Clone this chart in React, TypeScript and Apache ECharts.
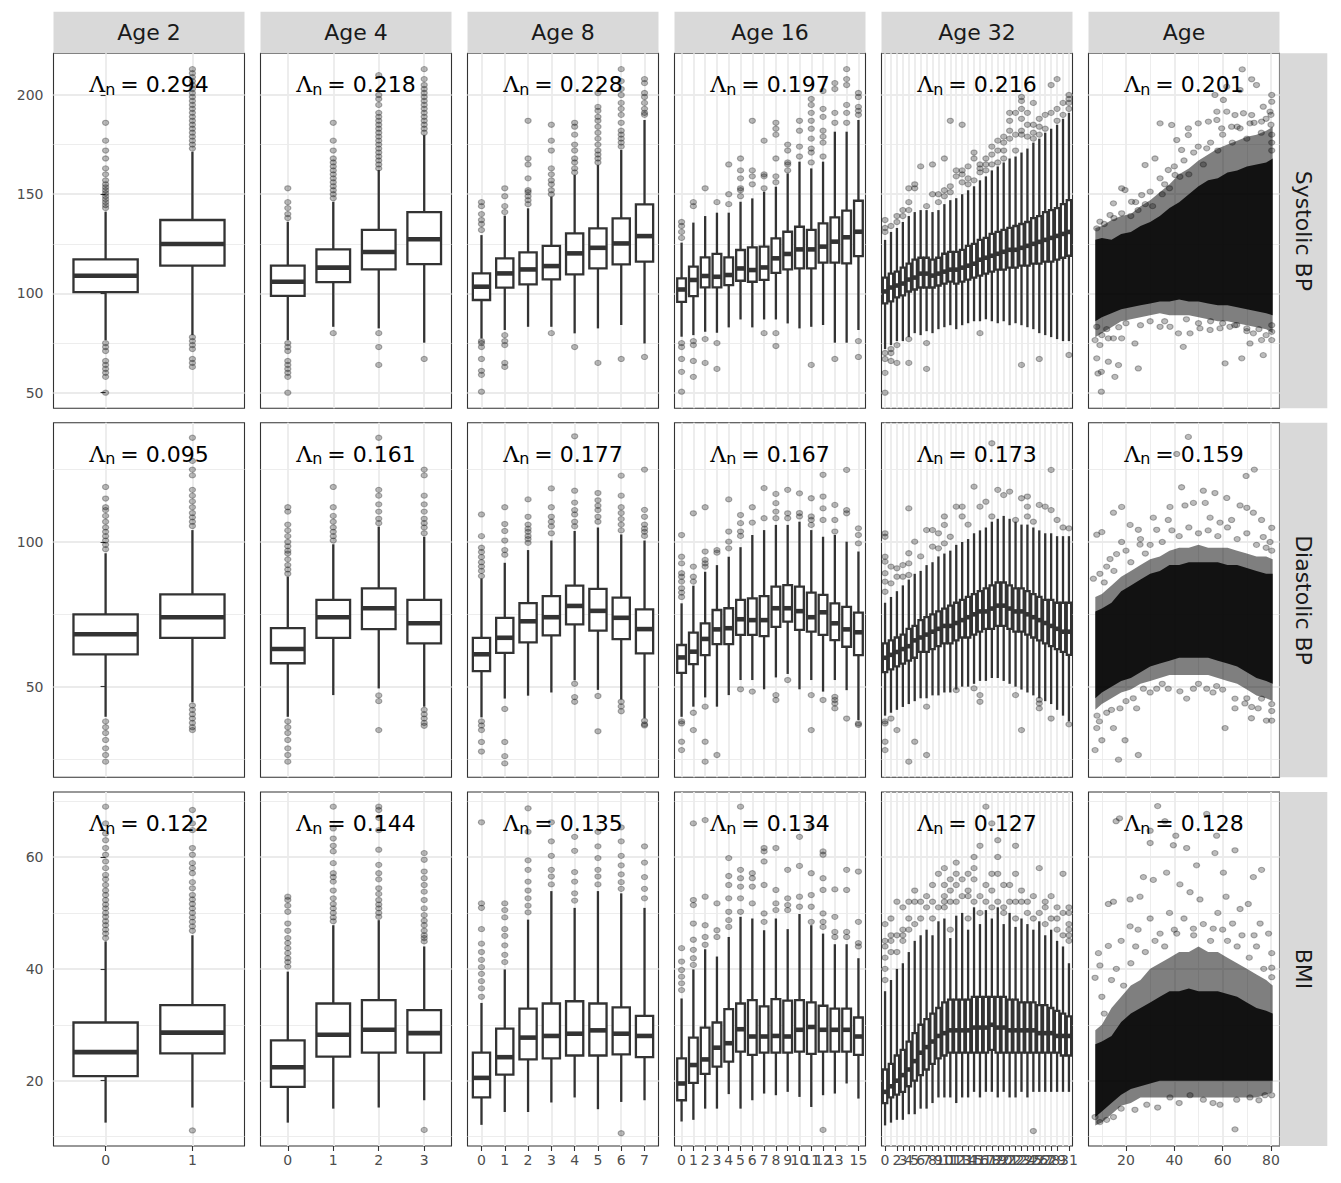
import React, { useEffect, useRef } from "react";
import * as echarts from "echarts";

const FONT = "DejaVu Sans";

const ROW_NAMES = ["Systolic BP", "Diastolic BP", "BMI"];
const COL_NAMES = ["Age 2", "Age 4", "Age 8", "Age 16", "Age 32", "Age"];
const LAMBDA = [
  ["0.294", "0.218", "0.228", "0.197", "0.216", "0.201"],
  ["0.095", "0.161", "0.177", "0.167", "0.173", "0.159"],
  ["0.122", "0.144", "0.135", "0.134", "0.127", "0.128"],
];
const GROUP_COUNTS = [2, 4, 8, 16, 32];
const Y_MAJOR = [[50, 100, 150, 200], [50, 100], [20, 40, 60]];
const Y_MINOR = [[75, 125, 175], [25, 75, 125], [10, 30, 50, 70]];
const Y_RANGE = [[42.14, 221.0], [18.7, 141.2], [8.32, 71.62]];
const AGE_MAJOR = [20, 40, 60, 80];
const AGE_MINOR = [10, 30, 50, 70];
const AGE_RANGE = [4.48, 83.52];

// ---------- Systolic BP: boxes [lower whisker, Q1, median, Q3, upper whisker]
const SBP_A2 = [[76.5, 100.7, 108.9, 117.2, 141.2], [79, 114, 124.9, 137, 171.4]];
const SBP_A2_OUT = [
  [143, 144.5, 146, 147.5, 149, 150.5, 152, 153.5, 155, 157, 160, 163, 168, 172, 177, 186, 75, 73, 71, 66, 64, 62, 60, 58, 50],
  [173, 175, 177, 179, 181, 183, 185, 187, 189, 191, 193, 195, 197, 199, 201, 203, 205, 207, 209, 211, 213, 78, 76, 74, 72, 67, 65, 63],
];
const SBP_A4 = [[76.5, 98.8, 105.9, 114, 136.1], [83.2, 105.7, 113, 122.2, 146.2], [82.4, 112.1, 120.9, 132, 162.2], [75.2, 114.8, 127.3, 141, 179.8]];
const SBP_A4_OUT = [
  [138, 140, 143, 146, 153, 75, 73, 71, 66, 64, 62, 60, 58, 50],
  [148, 150, 152, 154, 156, 158, 160, 162, 164, 166, 168, 172, 177, 186, 80],
  [163, 165, 167, 169, 171, 173, 175, 177, 179, 181, 183, 185, 187, 189, 191, 195, 198, 200, 210, 80, 73, 64],
  [181, 183, 185, 187, 189, 191, 193, 195, 197, 199, 201, 203, 205, 208, 213, 67],
];
const SBP_A8 = [
  [77.4, 96.7, 103.4, 110.1, 129.4], [81.6, 102.9, 110.1, 117.7, 139.2], [83.2, 104.6, 112.1, 120.7, 142.9], [83.2, 107.1, 113.8, 124, 148.8],
  [79.9, 109.6, 120.2, 130.3, 159.7], [82.4, 112.6, 123, 132.8, 164.7], [84.1, 114.7, 125.2, 137.8, 172.3], [74.8, 116, 128.9, 144.9, 187.4],
];
const SBP_A8_OUT = [
  [132, 135, 137, 140, 144, 146, 76, 75, 73, 67, 61, 59, 50.5],
  [141, 144, 149, 153, 79, 76, 74, 65, 63],
  [145, 147, 149, 151, 152, 158, 165, 168, 187],
  [150, 152, 155, 157, 160, 163, 172, 177, 185, 80],
  [161, 163, 166, 168, 172, 175, 180, 184, 186, 73],
  [166, 168, 170, 172, 175, 178, 181, 184, 187, 189, 192, 194, 201, 65],
  [174, 176, 178, 180, 182, 186, 190, 193, 196, 200, 203, 207, 213, 67],
  [190, 191, 193, 196, 199, 201, 206, 208, 68],
];
const SBP_A16 = [
  [78.2, 95.8, 102.0, 107.6, 125.6], [79, 98.7, 106.8, 113.5, 135.7], [80.7, 103.1, 108.8, 118.2, 139], [80.2, 103.1, 108.4, 119.9, 140.7],
  [82.9, 104.2, 109.3, 118.2, 140.7], [86.9, 106.4, 112.6, 121.9, 146.2], [82.9, 105.9, 111.8, 123.2, 147.9], [86.9, 106.8, 113.1, 123.6, 151.3],
  [86.9, 110.4, 117.7, 127.8, 153.8], [84.9, 112.1, 119.9, 131.1, 160.5], [82.4, 112.6, 122.2, 133.6, 166.4], [83.2, 112.6, 122.2, 132, 163],
  [84.1, 115.5, 123.6, 135.3, 166.4], [75.2, 115.5, 126.1, 138.3, 181.5], [75.2, 115.2, 128.3, 141.7, 181.5], [81.6, 118.8, 131.1, 146.7, 187.4],
];
const SBP_A16_OUT = [
  [128, 131, 134, 136, 75, 73, 67, 60.5, 50.5], [144, 146, 76, 74, 66, 58], [153, 77, 65], [146, 75, 62],
  [145, 150, 165], [149, 152, 153, 158, 162, 168], [155, 159, 162, 187], [153, 159, 160, 177, 80],
  [156, 159, 168, 180, 183, 186, 80, 73.5], [162, 165, 166, 172, 175], [169, 174, 182, 187], [166, 171, 173, 178, 183, 187, 191, 195, 198, 64],
  [169, 176, 179, 182, 189, 193, 202], [186, 191, 203, 206, 67], [186, 191, 195, 205, 208, 213], [190, 192, 194, 199, 201, 76, 68],
];
const SBP_A32 = [
  [72, 95, 101, 108, 127], [74, 96, 103, 110, 131], [76, 98, 104, 111, 133], [76, 99, 105, 113, 136], [78, 101, 107, 115, 139], [80, 102, 108, 117, 141],
  [79, 103, 110, 118, 142], [81, 103, 110, 118, 142], [80, 103, 109, 117, 141], [82, 104, 110, 118, 142], [83, 105, 111, 120, 145], [84, 106, 112, 121, 147],
  [82, 105, 112, 121, 148], [84, 106, 113, 122, 150], [85, 107, 114, 124, 152], [86, 108, 115, 125, 154], [86, 109, 117, 127, 157], [87, 110, 118, 128, 159],
  [86, 111, 119, 130, 162], [85, 112, 120, 131, 164], [86, 112, 121, 132, 166], [84, 113, 122, 133, 168], [85, 113, 122, 134, 169], [84, 114, 123, 135, 171],
  [83, 114, 124, 136, 173], [82, 115, 125, 138, 176], [80, 115, 126, 139, 178], [79, 116, 127, 141, 181], [78, 116, 128, 142, 183], [77, 117, 129, 143, 185],
  [76, 118, 130, 145, 188], [76, 119, 131, 147, 191],
];
const SBP_A32_OUT = [
  [131, 133, 137, 70, 67, 60, 50], [134, 72, 70, 66], [136, 139, 74, 65], [139, 142], [142, 146, 153, 77, 65], [153, 155],
  [164], [144, 75, 62], [150, 165], [146, 150], [149, 152, 168], [151, 154, 187],
  [159, 162], [156, 160, 162, 185], [155, 158, 164], [157, 168, 171], [161, 163, 165, 80], [162, 165, 168],
  [165, 170, 174], [166, 172, 177], [168, 172, 176, 179], [178, 182, 187, 191], [172, 180, 191], [180, 182, 188, 193, 197, 199, 64],
  [179, 185, 191], [178, 181, 185, 196], [180, 184, 188, 67], [183, 190], [191, 205], [187, 193, 208],
  [190, 196], [193, 196, 198, 200, 69],
];

// ---------- Diastolic BP
const DBP_A2 = [[39.6, 61.2, 68.1, 75, 96.1], [44.6, 66.9, 74, 81.9, 104.1]];
const DBP_A2_OUT = [
  [97.5, 99, 100.5, 102, 103.5, 105, 107, 109, 111, 112, 115, 119, 38, 36, 34, 31.6, 28.7, 26.4, 24.1],
  [105.5, 107, 108.5, 110, 112, 114, 116, 118, 123, 125, 128, 136, 43.5, 42, 40.5, 39, 37.5, 36, 35],
];
const DBP_A4 = [[39.6, 58.1, 63, 70.2, 88], [47.1, 66.9, 74, 80, 99.2], [49.4, 69.9, 77.1, 84, 105.3], [43.1, 65, 71.9, 80, 101.8]];
const DBP_A4_OUT = [
  [89, 90.5, 92, 94, 96, 97, 98.5, 100, 102, 104, 106, 110.5, 112, 38, 36, 34, 31.6, 28.7, 26.4, 24.1],
  [100.5, 102, 103.5, 105, 107, 109, 112, 119],
  [106.5, 108, 110.5, 113, 116, 118, 136, 47, 45, 35],
  [103, 105, 106.5, 108, 110.5, 113, 116, 123, 125, 42, 40.5, 39, 37.5, 36.5],
];
const DBP_A8 = [
  [39.4, 55.4, 61.2, 66.9, 87.4], [45.9, 61.7, 66.9, 73.8, 92.8], [46.9, 65.3, 72.6, 78.9, 97.2], [48, 67.7, 74, 81.3, 100.5],
  [52.2, 71.5, 77.9, 84.9, 103.8], [48.9, 69.4, 76.2, 83.8, 105], [45.6, 66.4, 73.8, 80.8, 102.6], [39.1, 61.5, 69.9, 76.7, 100.5],
];
const DBP_A8_OUT = [
  [88.2, 90, 91.5, 93, 94.8, 96.5, 98, 102, 109.5, 38, 36.6, 35, 30.9, 27.6],
  [95.6, 97.2, 100.5, 103.8, 106.2, 112, 42.3, 30.9, 26, 23.5],
  [99.7, 101, 102.1, 103.5, 104.6, 106, 108.7, 114.7],
  [103, 105.4, 107, 108.7, 112, 118.5],
  [105.4, 107, 109.5, 111, 113.6, 117.7, 136.5, 51, 46.4, 44.8],
  [107, 108.7, 111, 112.5, 114.4, 116.9, 46.8, 34.6],
  [104, 106, 107.9, 110, 112, 116, 122.9, 44.8, 43.2, 41.5],
  [102.1, 103.5, 104.6, 106, 108.7, 111.1, 125, 38.2, 37, 36.6],
];
const DBP_A16 = [
  [39.6, 54.8, 60.1, 64.4, 78.8], [43.1, 57.8, 62.1, 68.7, 84.9], [46.3, 60.9, 66.5, 71.9, 89.7], [43.1, 64.7, 69.8, 76.5, 92],
  [47.1, 64.7, 70.2, 77.1, 94.9], [52.3, 67.9, 73.3, 80, 98.2], [52.3, 67.9, 73, 80.5, 102.4], [49.1, 67.5, 73, 81.3, 104.1],
  [53.2, 70.7, 77.1, 84.6, 105.9], [54.4, 72.5, 77.1, 85.1, 105.9], [49.1, 69.6, 76.1, 84.6, 107], [52.3, 69, 74, 82.5, 104.1],
  [48.3, 67.9, 75.7, 81.7, 101.8], [52.3, 66.1, 71.9, 78.8, 102.4], [48.8, 63.8, 69.8, 77.6, 100.1], [38.5, 60.9, 68.8, 75.6, 96.7],
];
const DBP_A16_OUT = [
  [81, 82.5, 84, 86.3, 88, 89.2, 92.6, 94.9, 102.4, 38, 37.3, 31, 28.1], [86.3, 88, 91.5, 109.9, 41, 35], [91.5, 92.6, 93.8, 96.7, 112, 43.1, 31, 24.1], [96.3, 97.2, 26.4],
  [97.8, 100.1, 103.6, 114.7], [102.1, 103.6, 106.5, 109.3, 49.1], [106.7, 112, 48.3], [108.2, 118.6],
  [108.2, 110.5, 113.4, 116.6, 47.1, 45.4], [108.2, 109.9, 118, 52.3], [108.8, 110, 116.8], [105.9, 107.6, 108.8, 115.1, 47.1, 35],
  [107.6, 111.6, 115.7, 123.2, 45.4], [103.6, 107.6, 112.8, 46.5, 45.4, 44.2, 42.5], [109.9, 111, 124.9, 39], [99.5, 102.4, 104.7, 37.3, 36.8],
];
const DBP_A32 = [
  [40, 55, 60, 65, 79], [41, 56, 61, 66, 81], [42, 57, 62, 67, 83], [43, 58, 63, 68, 85], [44, 59, 64, 70, 87], [45, 60, 66, 71, 89],
  [46, 62, 67, 73, 90], [46, 62, 68, 74, 92], [47, 63, 69, 75, 93], [47, 64, 70, 76, 95], [48, 65, 71, 77, 96], [48, 65, 71, 78, 97],
  [49, 66, 72, 79, 99], [50, 67, 73, 80, 100], [50, 67, 74, 81, 101], [51, 68, 75, 82, 103], [52, 69, 76, 83, 104], [52, 70, 76, 84, 105],
  [53, 70, 77, 85, 107], [53, 71, 78, 86, 108], [52, 71, 78, 86, 109], [51, 70, 77, 85, 108], [50, 69, 76, 84, 107], [49, 69, 76, 84, 106],
  [48, 68, 75, 83, 106], [47, 67, 74, 82, 105], [46, 66, 73, 81, 104], [45, 65, 72, 80, 103], [44, 64, 71, 80, 103], [42, 63, 70, 79, 102],
  [40, 62, 69, 79, 102], [38, 61, 69, 79, 102],
];
const DBP_A32_OUT = [
  [82.8, 86.3, 89.2, 93.2, 94.9, 101.8, 103, 38, 37.3, 31, 28.1], [85.7, 91.5, 39], [88, 90.9, 35], [88, 92], [88.6, 92.6, 96.1, 111.6, 24.1], [100.1, 31],
  [95], [104.1, 43.1, 26.4], [98.4, 104.1], [97.8, 103], [99.5, 105.9, 108.8], [101.8],
  [112.2, 48.8], [108.8, 112.2], [106], [119.1, 49.4], [112.2, 47.1, 44.8], [113.9],
  [108.8, 134.1], [118], [116.2], [117.4], [107.6, 47.1], [115.1, 35],
  [108.8, 112.2, 115.7], [107], [112.8, 45.5, 44.2, 42.5], [112.2], [111, 124.9, 39], [107.6],
  [105], [104.7, 37],
];

// ---------- BMI
const BMI_A2 = [[12.5, 20.8, 25.1, 30.4, 44.9], [15.2, 24.9, 28.6, 33.5, 46]];
const BMI_A2_OUT = [
  [45.5, 46.3, 47, 47.8, 48.5, 49.3, 50, 50.8, 51.5, 52.3, 53.2, 54, 55, 56, 56.8, 58, 59.2, 60.4, 61.6, 63, 64.2, 66, 69],
  [46.8, 47.6, 48.4, 49.2, 50, 50.8, 51.6, 52.4, 53.2, 54.4, 55.5, 57.1, 58, 58.9, 60.4, 61.6, 64.8, 66, 68.4, 11.1],
];
const BMI_A4 = [[12.5, 18.9, 22.4, 27.2, 39.5], [15, 24.3, 28.2, 33.8, 47.8], [15.2, 25, 29.1, 34.4, 48.7], [16.5, 25, 28.5, 32.6, 44]];
const BMI_A4_OUT = [
  [40.4, 41.2, 41.9, 42.8, 43.7, 44.6, 45.5, 46.8, 48.1, 50.2, 51.3, 52.3, 52.9],
  [48.5, 49.2, 50, 50.8, 51.6, 52.6, 54, 55.6, 56.4, 57.1, 58.9, 61, 62, 63.3, 65.1, 69],
  [49.3, 50, 50.8, 51.5, 52.3, 53.4, 54.4, 56, 57.1, 58.6, 61.3, 64.8, 67, 68.4, 69],
  [44.9, 45.5, 46, 46.8, 47.8, 48.6, 49.6, 50.8, 52.3, 53.8, 55, 56.2, 57.4, 59.5, 60.7, 11.2],
];
const BMI_A8 = [
  [12.1, 17, 20.5, 25.0, 33.9], [14.4, 21.1, 24.2, 29.3, 39.9], [14.4, 23.8, 27.7, 32.9, 48.8], [16.1, 24, 28, 33.8, 53.9],
  [17, 24.5, 28.4, 34.2, 50.9], [14.9, 24.5, 29.0, 33.8, 53.9], [16.2, 24.7, 28.4, 33.1, 53.5], [16.5, 24.2, 28, 31.6, 50.9],
];
const BMI_A8_OUT = [
  [35, 36.5, 37.8, 39.1, 40.3, 41.6, 43, 44.5, 47.1, 50.9, 51.7, 66.2],
  [41.2, 42.5, 44.2, 45.9, 47.1, 49.2, 50.5, 51.7],
  [50.1, 51.3, 52.6, 54, 55.6, 57.7, 59.4, 64.5, 68.7],
  [55.1, 56.5, 57.7, 60.2, 62.8, 66.2],
  [52.2, 53.5, 55.6, 57.3, 61.1, 63.6],
  [55.1, 56.5, 57.7, 59.8, 61.9, 64.5],
  [54.3, 55.5, 56.9, 58.5, 60.2, 62.8, 65.3, 10.6],
  [52.6, 54.3, 56.4, 59, 61.9],
];
const BMI_A16 = [
  [12.7, 16.5, 19.5, 24.0, 34.7], [13, 19.6, 22.8, 27.7, 39.9], [15, 21.2, 23.8, 29.5, 43.5], [15, 22.5, 25.9, 30.4, 42.2],
  [17.6, 23.4, 26.7, 32.8, 45.7], [15, 25.2, 29.2, 33.8, 49.3], [16.5, 24.6, 27.9, 34.4, 49], [17.7, 25, 27.9, 33.3, 46.9],
  [17.4, 25, 28, 34.6, 49], [18, 25, 27.9, 34.3, 47.1], [17.1, 25.2, 29.1, 34.4, 49.8], [15.3, 24.8, 29.6, 34, 47.8],
  [17.4, 25.2, 29.1, 33.4, 46.3], [17.7, 25.2, 29.1, 32.9, 44.4], [19.5, 25.2, 29.1, 32.9, 44.4], [16.8, 24.6, 27.9, 31.3, 41.9],
];
const BMI_A16_OUT = [
  [36.2, 37.4, 38.6, 39.8, 41.3, 43.7], [40.7, 41.9, 43.4, 45.2, 48.1, 51.4, 52.3, 66], [44.3, 45.7, 47.8, 52.9, 66.6], [45.7, 46.9, 51.7],
  [47.5, 48.7, 50.2, 52.6, 55, 56.6, 59.8], [50.2, 52.6, 54.7, 56.2, 57.7, 69], [51.7, 54.7, 56.2, 57.1], [48.4, 49.9, 55, 59.2, 61, 61.6],
  [50.5, 51.7, 54.1, 61.6], [50.5, 51.4, 52.6, 57.7], [51.1, 52.9, 58.4, 63.6], [48.4, 51.1, 53.2, 57.1, 65.4],
  [47.5, 48.4, 49.9, 54.1, 56.2, 60.4, 61, 11.2], [45.7, 46.6, 49.3, 54.2], [45.7, 46.6, 54.1, 57.7], [44, 44.6, 48.4, 57.4],
];
const BMI_A32 = [
  [12, 16, 18, 22, 36], [12.5, 17, 19, 23, 38], [13, 17.5, 20, 24.5, 40], [13, 18, 21, 25.5, 41], [14, 19, 22, 27, 43], [14, 20, 23.5, 28.5, 45],
  [15, 21, 25, 30, 46], [15, 22, 26, 31, 47], [16, 23, 27, 32, 46], [17, 24, 28, 33, 48.5], [17, 24.5, 28.5, 34, 49], [17, 25, 29, 34.5, 45.5],
  [16, 25, 29, 34.5, 49.5], [17, 25, 29, 34.5, 50], [17, 25, 29, 34.5, 47], [18, 25, 29.5, 35, 51], [17, 25, 29.5, 35, 48], [18, 25, 29.5, 35, 50.5],
  [18, 25.5, 30, 35, 49], [17, 25, 29.5, 35, 51], [18, 25, 29.5, 35, 48], [17, 25, 29, 34.5, 50], [17, 25, 29, 34.5, 47.5], [18, 25, 29, 34, 49],
  [17, 25, 29, 34, 48], [18, 25, 29, 34, 47], [18, 25, 28.5, 33.5, 48.5], [18, 25, 28.5, 33.5, 46], [18, 25, 28.5, 33, 47], [18, 25, 28, 32.5, 45],
  [18, 24.5, 28, 32, 44], [18, 24.5, 28, 31.5, 41],
];
const BMI_A32_OUT = [
  [38, 40, 42, 44, 45, 48], [43, 45, 46, 49], [43, 46, 52], [45, 46, 47, 51], [47, 49, 52], [48, 52, 54],
  [49, 52], [51, 53], [49, 52, 55], [51, 57], [51, 52, 53, 55, 58], [47, 52, 54, 56],
  [52, 55, 57, 59], [53, 56], [49, 53, 54, 57], [52, 56, 58, 60], [50, 53, 62], [52, 55, 69],
  [51, 54, 57, 66], [52, 57, 60, 63], [50, 51, 55], [52, 55], [49, 52, 57, 62], [52, 54],
  [50, 52], [49, 53, 11], [50, 58], [48, 51, 52], [49, 53], [47, 49, 51],
  [46, 50, 57], [45, 46, 47, 48, 50, 51],
];

// ---------- Continuous age column: dense core bands [age, low, high] and sparse points [age, value]
const SBP_AGE_OUTER = [[7.3, 78, 133], [10, 80, 134], [14, 83, 137], [18, 86, 139], [22, 87, 140], [26, 88, 144], [30, 89, 147], [34, 90, 151], [38, 89, 155], [42, 89, 160], [46, 89, 163], [50, 88, 167], [54, 87, 170], [58, 86, 173], [62, 86, 175], [66, 85, 177], [70, 84, 179], [74, 83, 180], [78, 82, 182], [80.7, 80, 184]];
const SBP_AGE_INNER = [[7.3, 86, 127], [10, 88, 128], [14, 90, 127], [18, 92, 130], [22, 93, 131], [26, 94, 134], [30, 95, 136], [34, 96, 139], [38, 96, 143], [42, 97, 146], [46, 96, 150], [50, 96, 154], [54, 95, 157], [58, 94, 158], [62, 94, 161], [66, 93, 162], [70, 92, 164], [74, 91, 165], [78, 90, 166], [80.7, 89, 168]];
const SBP_AGE_PTS = [
  [68.1, 212.9], [72, 207.9], [74, 205], [80.3, 200], [80.3, 196.6], [61.7, 204.2], [67.2, 202.5], [56.8, 200], [60.3, 197.5], [57.6, 191.6], [61.7, 191.6], [65.1, 189.9],
  [68.6, 190.8], [72, 189.9], [76.8, 194.1], [79.6, 191.6], [34.1, 185.7], [38.9, 184.9], [45.8, 183.2], [49.9, 185.7], [54.1, 186.6], [57.6, 187.4], [59.6, 183.2], [63.7, 184],
  [67.2, 183.2], [71.3, 185.7], [76.1, 186.6], [41, 177.3], [45.8, 179.8], [49.9, 174], [53.4, 173.1], [43, 172.3], [27.9, 164.7], [32, 168], [37.5, 162.2], [34.1, 158],
  [40.3, 159.7], [42.3, 158.8], [18.2, 153], [19.6, 152.1], [26.5, 149.6], [30, 151.3], [14.8, 145.4], [22.3, 146.2], [9.2, 136.2], [13.4, 139.5], [18.2, 140.4], [7.9, 132.8],
  [25, 142], [28, 145], [35, 150], [38, 153], [46, 160], [52, 165], [58, 172], [64, 176], [70, 178], [76, 181], [80, 185], [80, 190], [11, 135], [15, 138], [22, 139],
  [24, 146], [31, 144], [36, 155], [40, 164], [44, 167], [48, 171], [55, 176], [60, 180], [66, 184], [73, 186], [78, 188], [80.3, 180], [80.3, 176], [80.3, 172],
  [7.9, 83.2], [7.2, 76.5], [9.2, 74], [12.7, 77.4], [14.8, 77.4], [18.2, 77.4], [23.7, 74.8], [7.9, 67.3], [12.7, 65.6], [16.9, 63.9], [8.4, 59.7], [9.8, 60.5], [15.4, 58],
  [25.1, 62.2], [9.8, 50.5], [34.1, 83.2], [38.2, 83.2], [41.7, 79.9], [46.5, 79.9], [50.6, 82.4], [54.8, 81.6], [58.9, 82.4], [63, 83.2], [65.8, 84.1], [70, 82.4],
  [72.7, 79.9], [76.1, 76.5], [43.7, 73.1], [61, 64.8], [67.9, 67.3], [71.3, 74.8], [76.8, 68.9], [80.3, 76.5], [80.3, 80.7], [30, 86], [20, 85], [10, 79], [45, 87], [55, 86], [65, 84], [75, 82],
  [26, 84], [36, 86], [50, 85], [60, 85], [70, 81], [78, 79], [80.3, 84], [12, 82], [17, 83],
];
const DBP_AGE_OUTER = [[7.3, 42, 81], [10, 44, 82], [14, 46, 85], [18, 48, 88], [22, 49, 90], [26, 51, 92], [30, 52, 94], [34, 53, 95], [38, 54, 97], [42, 54, 98], [46, 54, 98], [50, 54, 99], [54, 54, 98], [58, 53, 98], [62, 52, 98], [66, 51, 97], [70, 49, 96], [74, 47, 95], [78, 46, 95], [80.7, 45, 94]];
const DBP_AGE_INNER = [[7.3, 46, 76], [10, 48, 77], [14, 50, 79], [18, 52, 83], [22, 53, 85], [26, 55, 87], [30, 57, 89], [34, 58, 90], [38, 59, 92], [42, 60, 92], [46, 60, 93], [50, 60, 93], [54, 60, 93], [58, 59, 93], [62, 58, 92], [66, 57, 92], [70, 55, 91], [74, 53, 90], [78, 52, 89], [80.7, 51, 89]];
const DBP_AGE_PTS = [
  [45.8, 136.3], [41, 130.4], [69.7, 122.8], [73.1, 125], [43, 118.9], [52, 117.7], [56.8, 116.9], [61.7, 115.2], [14.8, 110.1], [18.2, 112.1], [38.2, 112.1], [44.4, 112.6],
  [47.9, 113.5], [52.8, 113.5], [67.2, 112.6], [70, 111.8], [72.7, 110.1], [21.7, 105.9], [25.1, 104.2], [31.3, 108.4], [37.5, 107.6], [32.7, 104.2], [54.8, 108.4], [58.9, 106.7],
  [63.7, 107.6], [76.1, 107.6], [7.9, 102.5], [10, 103.4], [18.2, 100], [25.8, 99.1], [80.3, 104.9], [79.6, 100], [76.8, 101.7], [6.5, 87.3], [9.2, 89], [12, 91.5], [13.4, 94.1],
  [16.1, 95.8], [22, 93], [28, 96], [35, 100], [42, 102], [50, 103], [58, 102], [66, 101], [74, 99],
  [20, 97], [26, 101], [30, 99], [39, 104], [46, 105], [54, 104], [62, 105], [70, 103], [78, 98], [80.3, 97], [11, 86], [15, 90],
  [7.9, 35.7], [7.2, 28.1], [10, 31.5], [14.8, 35.7], [16.9, 24.8], [19.6, 31.5], [25.1, 26.4], [17.5, 42.5], [24.4, 42.5], [27.2, 49.3], [32.7, 49.3], [37.5, 49.3], [42.3, 48.4],
  [45.1, 45.9], [47.9, 49.3], [53.4, 49.3], [57.5, 50.2], [61, 35.7], [65.1, 45.9], [69.2, 44.2], [71.9, 39.1], [74.7, 42.5], [78.1, 38.3], [80.3, 38.3], [80.3, 41.6], [65.1, 42.5],
  [76.1, 45.9], [8, 40], [12, 41], [20, 45], [30, 48], [60, 49], [70, 46], [9, 38], [14, 42], [23, 46], [35, 51], [50, 51], [56, 48], [72, 43], [80.3, 44],
];
const BMI_AGE_OUTER = [[7.3, 12, 29], [10, 12.5, 30], [14, 14, 33], [18, 15.5, 35], [22, 16, 37], [26, 17, 38], [30, 17, 40], [34, 17, 41], [38, 17, 42], [42, 17, 43], [46, 17, 43], [50, 17, 44], [54, 17, 43], [58, 17, 43], [62, 17, 42], [66, 17, 41], [70, 17, 40], [74, 17, 39], [78, 17.5, 38], [80.7, 18, 37]];
const BMI_AGE_INNER = [[7.3, 13.5, 26.5], [10, 14.5, 27], [14, 16, 28], [18, 17.5, 30.5], [22, 18.5, 32], [26, 19, 33], [30, 19.5, 34], [34, 20, 35], [38, 20, 36], [42, 20, 36], [46, 20, 36.5], [50, 20, 36], [54, 20, 36], [58, 20, 36], [62, 20, 35.5], [66, 20, 35], [70, 20, 34], [74, 20, 33], [78, 20, 32.5], [80.7, 20, 32]];
const BMI_AGE_PTS = [
  [33.1, 69.1], [15.9, 66.4], [17.3, 66.9], [36.1, 66.4], [30, 64.7], [40.6, 63.8], [45.1, 61.6], [39.6, 62.1], [30, 62.5], [53.4, 67.7], [57.5, 63.8], [56.8, 60.7],
  [65.1, 61.2], [60.3, 57.2], [76.1, 57.7], [72.7, 56.4], [27.2, 56.4], [31.3, 55.9], [36.8, 57.2], [49.2, 58.5], [42.3, 55.1], [25.8, 52.9], [12.7, 51.6], [14.8, 52],
  [21.7, 52.4], [46.5, 53.7], [50.6, 52.4], [61.4, 52.9], [67.2, 50.7], [70.6, 51.6], [64.1, 48.1], [75.5, 48.1], [21.7, 47.6], [12.7, 44.1], [8.6, 42.8], [7.2, 38.4],
  [9.2, 40.6], [34.1, 46.3], [41, 46.3], [47.9, 47.2], [56.1, 47.2], [79, 46.3], [80.3, 42.8], [80.3, 40.2], [18, 45], [25, 47], [30, 49], [38, 50], [44, 49], [52, 48],
  [60, 47], [68, 46], [74, 44], [10, 35], [14, 38], [22, 41], [28, 43], [36, 44], [62, 45], [71, 42], [77, 40],
  [16, 40], [24, 44], [32, 45], [40, 47], [48, 46], [55, 45], [58, 50], [66, 44], [73, 46], [80.3, 38.5], [11, 32], [19, 37],
  [7.2, 13.5], [9.2, 12.6], [12, 13.0], [14.8, 13.5], [23.7, 14.8], [33.1, 15.2], [46.5, 17.4], [58.9, 15.7], [65.8, 16.6], [65.1, 11.3], [71.3, 17], [77.5, 17.4],
  [80.3, 17.4], [38.2, 17], [52, 16.6], [28.6, 15.7], [18, 15], [42, 16], [56, 16], [75, 16.5],
];

const BOXES = [
  [SBP_A2, SBP_A4, SBP_A8, SBP_A16, SBP_A32],
  [DBP_A2, DBP_A4, DBP_A8, DBP_A16, DBP_A32],
  [BMI_A2, BMI_A4, BMI_A8, BMI_A16, BMI_A32],
];
const OUTLIERS = [
  [SBP_A2_OUT, SBP_A4_OUT, SBP_A8_OUT, SBP_A16_OUT, SBP_A32_OUT],
  [DBP_A2_OUT, DBP_A4_OUT, DBP_A8_OUT, DBP_A16_OUT, DBP_A32_OUT],
  [BMI_A2_OUT, BMI_A4_OUT, BMI_A8_OUT, BMI_A16_OUT, BMI_A32_OUT],
];
const AGE_OUTER = [SBP_AGE_OUTER, DBP_AGE_OUTER, BMI_AGE_OUTER];
const AGE_INNER = [SBP_AGE_INNER, DBP_AGE_INNER, BMI_AGE_INNER];
const AGE_PTS = [SBP_AGE_PTS, DBP_AGE_PTS, BMI_AGE_PTS];

// ---------- layout
const COL_LEFT = [53.5, 260.5, 467.5, 674.5, 881.5, 1088.5];
const PANEL_W = 191;
const ROW_TOP = [53.3, 422.7, 792];
const ROW_H = [355, 354.6, 354];
const STRIP_TOP = 11.7;
const RIGHT_STRIP_X = 1279.5;
const RIGHT_STRIP_W = 47.8;
const BOX_HALF = 0.37;
const LW = 2.3;
const INK = "#333333";
const PT_SIZE = [6.2, 5.2];
const PT_STYLE = { color: "rgba(0,0,0,0.33)", borderColor: "rgba(0,0,0,0.38)", borderWidth: 1.1 };

function indices(n: number) {
  const out: number[] = [];
  for (let i = 0; i < n; i++) out.push(i);
  return out;
}

function boxRender(params: any, api: any) {
  const x = api.value(0);
  const pLo = api.coord([x, api.value(1)]);
  const pQ1 = api.coord([x, api.value(2)]);
  const pMed = api.coord([x, api.value(3)]);
  const pQ3 = api.coord([x, api.value(4)]);
  const pHi = api.coord([x, api.value(5)]);
  const half = Math.abs(api.coord([x + BOX_HALF, api.value(3)])[0] - pMed[0]);
  return {
    type: "group",
    children: [
      { type: "line", shape: { x1: pLo[0], y1: pLo[1], x2: pQ1[0], y2: pQ1[1] }, style: { stroke: INK, lineWidth: LW } },
      { type: "line", shape: { x1: pQ3[0], y1: pQ3[1], x2: pHi[0], y2: pHi[1] }, style: { stroke: INK, lineWidth: LW } },
      { type: "rect", shape: { x: pMed[0] - half, y: pQ3[1], width: 2 * half, height: pQ1[1] - pQ3[1] }, style: { fill: "#ffffff", stroke: INK, lineWidth: LW } },
      { type: "line", shape: { x1: pMed[0] - half, y1: pMed[1], x2: pMed[0] + half, y2: pMed[1] }, style: { stroke: INK, lineWidth: LW * 2 } },
    ],
  };
}

function bandSeries(gi: number, rows: number[][], fill: string) {
  return {
    type: "custom",
    xAxisIndex: 2 * gi,
    yAxisIndex: 2 * gi,
    silent: true,
    z: 2,
    data: rows,
    encode: { x: 0, y: [1, 2] },
    renderItem: (params: any, api: any) => {
      if (params.dataIndex !== 0) return null;
      const top = rows.map((r) => api.coord([r[0], r[2]]));
      const bot = rows.map((r) => api.coord([r[0], r[1]])).reverse();
      return { type: "polygon", shape: { points: top.concat(bot) }, style: { fill } };
    },
  };
}

function buildOption() {
  const grid: any[] = [];
  const xAxis: any[] = [];
  const yAxis: any[] = [];
  const series: any[] = [];
  const elements: any[] = [];
  const labelStyle = { color: "#4D4D4D", fontSize: 14, fontFamily: FONT };
  const tickStyle = { color: INK, width: 1.1 };

  for (let r = 0; r < 3; r++) {
    for (let c = 0; c < 6; c++) {
      const gi = r * 6 + c;
      grid.push({
        left: COL_LEFT[c], top: ROW_TOP[r], width: PANEL_W, height: ROW_H[r],
        show: true, backgroundColor: "#ffffff", borderColor: INK, borderWidth: 1.1,
      });
      const isCat = c < 5;
      const n = isCat ? GROUP_COUNTS[c] : 0;
      const xMajor = isCat ? indices(n) : AGE_MAJOR;
      xAxis.push({
        type: "value", gridIndex: gi,
        min: isCat ? -0.6 : AGE_RANGE[0], max: isCat ? n - 0.4 : AGE_RANGE[1],
        axisLine: { show: false },
        axisTick: { show: r === 2, customValues: xMajor, length: 5, lineStyle: tickStyle },
        axisLabel: {
          show: r === 2, customValues: xMajor, margin: 7, ...labelStyle,
          showMinLabel: true, showMaxLabel: true, hideOverlap: false,
          formatter: (v: number) => String(v),
        },
        splitLine: { show: true, lineStyle: { color: "#EBEBEB", width: 1.8 } },
      });
      xAxis.push({
        type: "value", gridIndex: gi, position: "top",
        min: isCat ? -0.6 : AGE_RANGE[0], max: isCat ? n - 0.4 : AGE_RANGE[1],
        axisLine: { show: false },
        axisTick: { show: false, customValues: isCat ? [] : AGE_MINOR },
        axisLabel: { show: false, customValues: isCat ? [] : AGE_MINOR },
        splitLine: { show: !isCat, lineStyle: { color: "#EBEBEB", width: 0.9 } },
      });
      yAxis.push({
        type: "value", gridIndex: gi, min: Y_RANGE[r][0], max: Y_RANGE[r][1],
        axisLine: { show: false },
        axisTick: { show: c === 0, customValues: Y_MAJOR[r], length: 5, lineStyle: tickStyle },
        axisLabel: {
          show: c === 0, customValues: Y_MAJOR[r], margin: 10, ...labelStyle,
          showMinLabel: true, showMaxLabel: true, formatter: (v: number) => String(v),
        },
        splitLine: { show: true, lineStyle: { color: "#EBEBEB", width: 1.8 } },
      });
      yAxis.push({
        type: "value", gridIndex: gi, position: "right", min: Y_RANGE[r][0], max: Y_RANGE[r][1],
        axisLine: { show: false },
        axisTick: { show: false, customValues: Y_MINOR[r] },
        axisLabel: { show: false, customValues: Y_MINOR[r] },
        splitLine: { show: true, lineStyle: { color: "#EBEBEB", width: 0.9 } },
      });

      if (isCat) {
        const boxes = BOXES[r][c];
        const outs = OUTLIERS[r][c];
        const outData: number[][] = [];
        outs.forEach((list, i) => list.forEach((v) => outData.push([i, v])));
        series.push({
          type: "scatter", xAxisIndex: 2 * gi, yAxisIndex: 2 * gi, silent: true, z: 2,
          data: outData, symbol: "circle", symbolSize: PT_SIZE, itemStyle: PT_STYLE,
        });
        series.push({
          type: "custom", xAxisIndex: 2 * gi, yAxisIndex: 2 * gi, silent: true, z: 3,
          data: boxes.map((b, i) => [i, b[0], b[1], b[2], b[3], b[4]]),
          encode: { x: 0, y: [1, 2, 3, 4, 5] },
          renderItem: boxRender,
        });
      } else {
        series.push(bandSeries(gi, AGE_OUTER[r], "rgba(0,0,0,0.5)"));
        series.push(bandSeries(gi, AGE_INNER[r], "rgba(0,0,0,0.86)"));
        series.push({
          type: "scatter", xAxisIndex: 2 * gi, yAxisIndex: 2 * gi, silent: true, z: 3,
          data: AGE_PTS[r], symbol: "circle", symbolSize: PT_SIZE, itemStyle: PT_STYLE,
        });
      }

      // lambda annotation
      elements.push({
        type: "text", z: 100,
        x: COL_LEFT[c] + PANEL_W / 2, y: ROW_TOP[r] + 31.5,
        style: {
          text: "{a|Λ}{b|n}{c|= " + LAMBDA[r][c] + "}",
          align: "center", verticalAlign: "middle",
          rich: {
            a: { fontFamily: "DejaVu Serif", fontSize: 22, fill: "#000000" },
            b: { fontFamily: FONT, fontSize: 16, fill: "#000000", padding: [9, 0, 0, 0] },
            c: { fontFamily: FONT, fontSize: 22, fill: "#000000", padding: [0, 0, 0, 5] },
          },
        },
      });
    }
  }

  // strips
  for (let c = 0; c < 6; c++) {
    elements.push({
      type: "rect", z: 1,
      shape: { x: COL_LEFT[c], y: STRIP_TOP, width: PANEL_W, height: ROW_TOP[0] - STRIP_TOP },
      style: { fill: "#D9D9D9" },
    });
    elements.push({
      type: "text", z: 2,
      x: COL_LEFT[c] + PANEL_W / 2, y: (STRIP_TOP + ROW_TOP[0]) / 2,
      style: { text: COL_NAMES[c], fontFamily: FONT, fontSize: 22, fill: "#1A1A1A", align: "center", verticalAlign: "middle" },
    });
  }
  for (let r = 0; r < 3; r++) {
    elements.push({
      type: "rect", z: 1,
      shape: { x: RIGHT_STRIP_X, y: ROW_TOP[r], width: RIGHT_STRIP_W, height: ROW_H[r] },
      style: { fill: "#D9D9D9" },
    });
    elements.push({
      type: "text", z: 2,
      x: RIGHT_STRIP_X + RIGHT_STRIP_W / 2, y: ROW_TOP[r] + ROW_H[r] / 2,
      rotation: -Math.PI / 2,
      style: { text: ROW_NAMES[r], fontFamily: FONT, fontSize: 22, fill: "#1A1A1A", align: "center", verticalAlign: "middle" },
    });
  }

  return {
    animation: false,
    backgroundColor: "#ffffff",
    grid, xAxis, yAxis, series,
    graphic: { elements },
  };
}

export default function App() {
  const ref = useRef<HTMLDivElement>(null);
  useEffect(() => {
    if (!ref.current) return;
    const chart = echarts.init(ref.current, undefined, { renderer: "svg" });
    chart.setOption(buildOption() as any);
    return () => chart.dispose();
  }, []);
  return (
    <div
      ref={ref}
      style={{ position: "absolute", left: 0, top: 0, width: 1341, height: 1183, background: "#ffffff" }}
    />
  );
}
